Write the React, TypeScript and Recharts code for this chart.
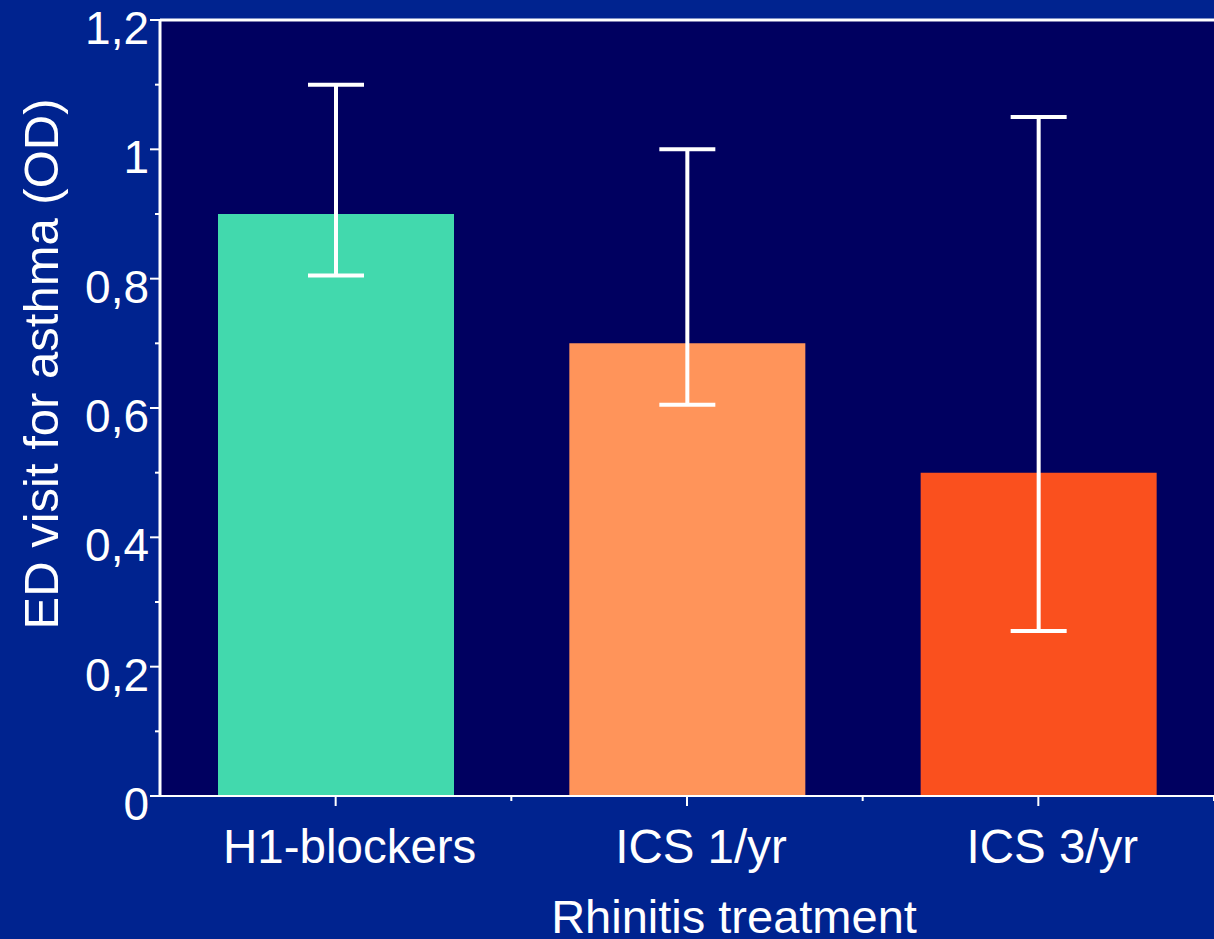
import { Bar, BarChart, CartesianGrid, Cell, ErrorBar, ReferenceLine, XAxis, YAxis } from 'recharts';

const categories = ['H1-blockers', 'ICS 1/yr', 'ICS 3/yr'];
const values = [0.9, 0.7, 0.5];
const lowerCI = [0.805, 0.605, 0.255];
const upperCI = [1.1, 1.0, 1.05];
const barColors = ['#42D9AD', '#FF945A', '#FA501E'];
const yTicks = [0, 0.1, 0.2, 0.3, 0.4, 0.5, 0.6, 0.7, 0.8, 0.9, 1, 1.1, 1.2];

const data = categories.map((name, i) => ({
  name,
  value: values[i],
  err: [values[i] - lowerCI[i], upperCI[i] - values[i]],
}));

const FONT = '"Liberation Sans", Arial, sans-serif';

function YTick({ x, y, payload }: any) {
  const v = payload.value as number;
  const major = Math.round(v * 10) % 2 === 0;
  return (
    <g>
      <line x1={major ? x : x + 5} x2={x + 10} y1={y} y2={y} stroke="#fff" strokeWidth={2} />
      {major && (
        <text x={x - 1} y={y + 24} textAnchor="end" fill="#fff" fontSize={46} fontFamily={FONT}>
          {String(v).replace('.', ',')}
        </text>
      )}
    </g>
  );
}

function XTick({ x, y, payload }: any) {
  const half = payload.offset || 175;
  return (
    <g>
      <line x1={x} x2={x} y1={y - 10} y2={y} stroke="#fff" strokeWidth={2} />
      <line x1={x + half} x2={x + half} y1={y - 10} y2={y - 5} stroke="#fff" strokeWidth={2} />
      <text x={x + 14} y={y + 57} textAnchor="middle" fill="#fff" fontSize={47.5} fontFamily={FONT}>
        {payload.value}
      </text>
    </g>
  );
}

export default function App() {
  return (
    <div style={{ position: 'absolute', left: 0, top: 0, width: 1214, height: 939, background: '#00238F' }}>
      <BarChart width={1214} height={939} data={data} margin={{ top: 20, right: 0, bottom: 0, left: 2 }} barSize={236}>
        <CartesianGrid fill="#000060" stroke="none" horizontal={false} vertical={false} />
        <XAxis
          dataKey="name"
          height={143}
          axisLine={{ stroke: '#fff', strokeWidth: 2 }}
          tickLine={false}
          tickSize={10}
          tickMargin={0}
          tick={<XTick />}
          interval={0}
          label={() => (
            <text x={734} y={933} textAnchor="middle" fill="#fff" fontSize={47} fontFamily={FONT}>
              Rhinitis treatment
            </text>
          )}
        />
        <YAxis
          width={158}
          domain={[0, 1.2]}
          ticks={yTicks}
          interval={0}
          axisLine={{ stroke: '#fff', strokeWidth: 3 }}
          tickLine={false}
          tickSize={10}
          tickMargin={0}
          tick={<YTick />}
          label={() => (
            <text
              x={58}
              y={364}
              transform="rotate(-90 58 364)"
              textAnchor="middle"
              fill="#fff"
              fontSize={49}
              fontFamily={FONT}
            >
              ED visit for asthma (OD)
            </text>
          )}
        />
        <ReferenceLine y={1.2} stroke="#fff" strokeWidth={3} ifOverflow="visible" />
        <ReferenceLine y={0} stroke="#000" strokeWidth={1} />
        <Bar dataKey="value" isAnimationActive={false}>
          {data.map((d, i) => (
            <Cell key={d.name} fill={barColors[i]} />
          ))}
          <ErrorBar dataKey="err" stroke="#fff" strokeWidth={4} width={28} isAnimationActive={false} />
        </Bar>
      </BarChart>
    </div>
  );
}
